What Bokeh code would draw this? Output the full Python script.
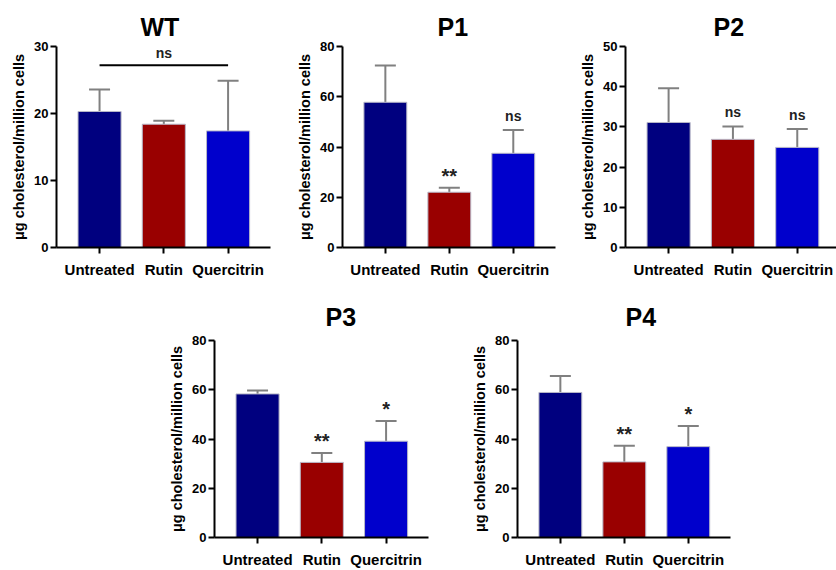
from bokeh.plotting import figure
from bokeh.models import ColumnDataSource, Range1d, FixedTicker, Whisker, TeeHead, Spacer
from bokeh.layouts import row, column
from bokeh.embed import file_html
from bokeh.resources import INLINE
from bokeh.core.properties import value

# ---------------- data ----------------
categories = ["Untreated", "Rutin", "Quercitrin"]
bar_colors = ["#00007f", "#990000", "#0000cc"]

wt_mean = [20.3, 18.4, 17.4]
wt_sd = [3.3, 0.5, 7.5]
wt_sig = ["", "", ""]
wt_bracket = {"start": "Untreated", "end": "Quercitrin", "y": 27.2, "label": "ns"}

p1_mean = [57.8, 22.0, 37.5]
p1_sd = [14.6, 1.8, 9.3]
p1_sig = ["", "**", "ns"]

p2_mean = [31.1, 26.9, 24.9]
p2_sd = [8.5, 3.2, 4.6]
p2_sig = ["", "ns", "ns"]

p3_mean = [58.3, 30.5, 39.1]
p3_sd = [1.4, 3.8, 8.2]
p3_sig = ["", "**", "*"]

p4_mean = [58.9, 30.7, 36.9]
p4_sd = [6.7, 6.6, 8.4]
p4_sig = ["", "**", "*"]

y_label = "μg cholesterol/million cells"

FONT = "Liberation Sans"
ERR_COLOR = "#808080"
SIG_OFFSET = {"ns": -14, "*": -12, "**": -12, "": 0}
SIG_SIZE = {"ns": "14px", "*": "20px", "**": "20px", "": "14px"}


def make_panel(title, mean, sd, sig, ymax, ystep, width, height, bl, br, bt, bb,
               x_end=3.66, title_offset=0, title_standoff=12, bracket=None):
    xs = list(range(1, len(categories) + 1))
    upper = [m + s for m, s in zip(mean, sd)]
    p = figure(width=width, height=height, title=title,
               x_range=Range1d(0.33, x_end), y_range=Range1d(0, ymax),
               output_backend="svg", toolbar_location=None,
               min_border_left=bl, min_border_right=br,
               min_border_top=bt, min_border_bottom=bb)
    p.outline_line_color = None
    p.xgrid.visible = False
    p.ygrid.visible = False
    p.background_fill_color = "white"
    p.border_fill_color = "white"

    p.title.align = "left"
    p.title.text_font = FONT
    p.title.text_font_size = "25px"
    p.title.text_font_style = "bold"
    p.title.text_color = "black"
    p.title.standoff = title_standoff
    p.title.offset = title_offset

    src = ColumnDataSource(dict(x=xs, top=mean, upper=upper, color=bar_colors,
                                sig=sig, off=[SIG_OFFSET[s] for s in sig],
                                size=[SIG_SIZE[s] for s in sig]))
    wh = Whisker(base="x", upper="upper", lower="top", source=src,
                 dimension="height", line_color=ERR_COLOR, line_width=2,
                 upper_head=TeeHead(size=21, line_color=ERR_COLOR, line_width=2),
                 lower_head=None, level="underlay")
    p.add_layout(wh)
    p.vbar(x="x", top="top", bottom=0, width=0.67, source=src,
           fill_color="color", line_color="#b8b8c8", line_width=1)
    p.text(x="x", y="upper", text="sig", y_offset="off", source=src,
           text_align="center", text_baseline="alphabetic",
           text_font=value(FONT), text_font_style="bold",
           text_font_size="size", text_color="#222222")

    if bracket is not None:
        bx0 = categories.index(bracket["start"]) + 1
        bx1 = categories.index(bracket["end"]) + 1
        p.segment(x0=[bx0], y0=[bracket["y"]], x1=[bx1], y1=[bracket["y"]],
                  line_color="black", line_width=2)
        p.text(x=[(bx0 + bx1) / 2], y=[bracket["y"]], text=[bracket["label"]],
               y_offset=-12, text_align="center", text_baseline="alphabetic",
               text_font=value(FONT), text_font_style="bold",
               text_font_size="14px", text_color="#222222")

    # x axis
    xa = p.xaxis[0]
    xa.ticker = FixedTicker(ticks=xs)
    xa.major_label_overrides = {x: c for x, c in zip(xs, categories)}
    xa.minor_tick_line_color = None
    xa.major_tick_in = 0
    xa.major_tick_out = 6
    xa.major_tick_line_width = 2
    xa.axis_line_width = 2
    xa.axis_line_color = "black"
    xa.major_tick_line_color = "black"
    xa.major_label_standoff = 7
    xa.major_label_text_font = FONT
    xa.major_label_text_font_style = "bold"
    xa.major_label_text_font_size = "15px"
    xa.major_label_text_color = "black"

    # y axis
    ya = p.yaxis[0]
    ya.ticker = FixedTicker(ticks=list(range(0, ymax + 1, ystep)))
    ya.minor_tick_line_color = None
    ya.major_tick_in = 0
    ya.major_tick_out = 6
    ya.major_tick_line_width = 2
    ya.axis_line_width = 2
    ya.axis_line_color = "black"
    ya.major_tick_line_color = "black"
    ya.major_label_standoff = 2
    ya.major_label_text_font = FONT
    ya.major_label_text_font_style = "bold"
    ya.major_label_text_font_size = "13px"
    ya.major_label_text_color = "black"
    ya.axis_label = y_label
    ya.axis_label_text_font = FONT
    ya.axis_label_text_font_style = "bold"
    ya.axis_label_text_font_size = "14.5px"
    ya.axis_label_text_color = "black"
    ya.axis_label_standoff = 4
    return p


f_wt = make_panel("WT", wt_mean, wt_sd, wt_sig, 30, 10, 290, 285, 56, 20, 46, 38,
                  bracket=wt_bracket, title_offset=84)
f_p1 = make_panel("P1", p1_mean, p1_sd, p1_sig, 80, 20, 282, 285, 52, 17, 46, 38,
                  title_offset=95)
f_p2 = make_panel("P2", p2_mean, p2_sd, p2_sig, 50, 10, 264, 285, 53, 0, 46, 38,
                  x_end=3.61, title_offset=88)
f_p3 = make_panel("P3", p3_mean, p3_sd, p3_sig, 80, 20, 303, 285, 48, 41, 55, 30,
                  title_offset=111, title_standoff=19)
f_p4 = make_panel("P4", p4_mean, p4_sd, p4_sig, 80, 20, 281, 285, 48, 20, 55, 30,
                  title_offset=108, title_standoff=19)

layout = column(row(f_wt, f_p1, f_p2),
                row(Spacer(width=166, height=285), f_p3, f_p4))

open("out.html", "w").write(file_html(layout, INLINE))
